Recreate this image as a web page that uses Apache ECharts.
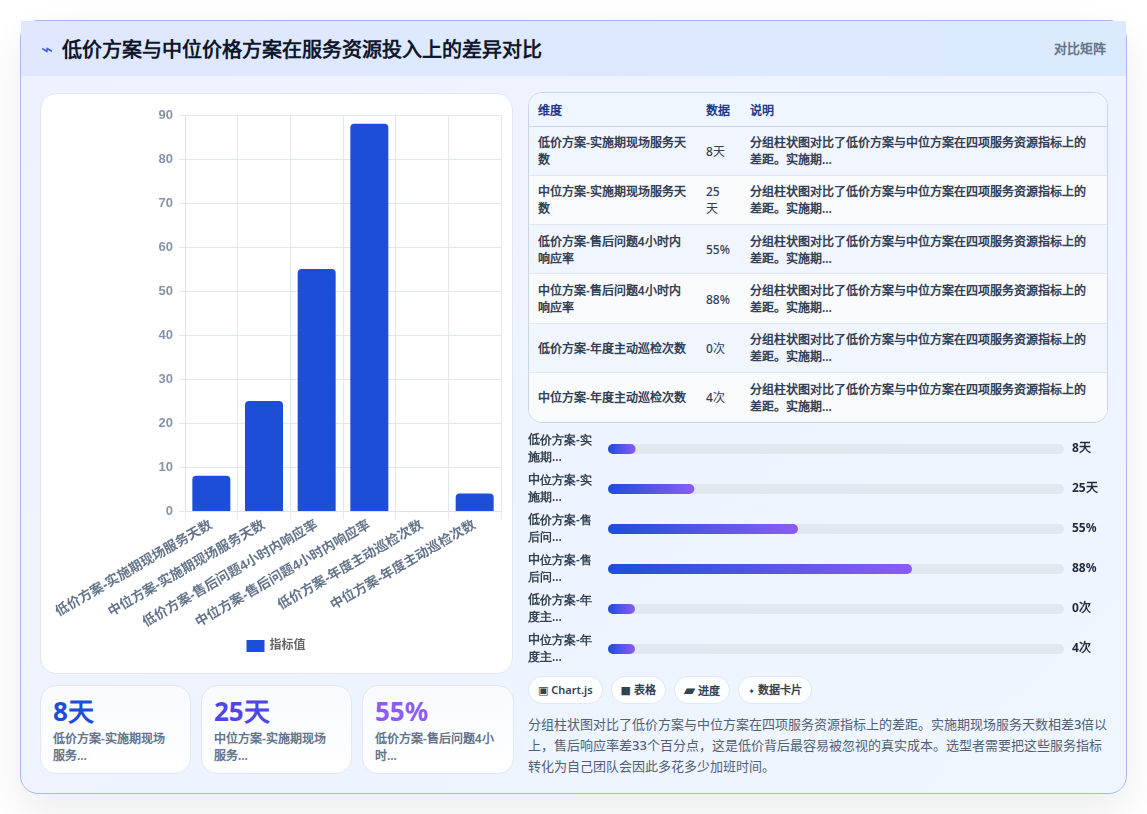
<!DOCTYPE html>
<html lang="zh-CN">
<head>
<meta charset="utf-8">
<title>低价方案与中位价格方案在服务资源投入上的差异对比</title>
<script src="https://cdn.jsdelivr.net/npm/echarts@6/dist/echarts.min.js"></script>
<style>
  * { box-sizing: border-box; margin: 0; padding: 0; }
  html, body { width: 1147px; height: 814px; overflow: hidden; background: #fff; }
  body { font-family: "Noto Sans", sans-serif; position: relative; }
  .panel { position: absolute; left: 20px; top: 20px; width: 1107px; height: 774px;
    border: 1px solid #a9b8e8; border-radius: 18px;
    background: linear-gradient(135deg, #eef2ff, #eff6ff);
    box-shadow: 0 18px 40px rgba(15, 23, 42, .08); }
  .head { position: absolute; left: 0; top: 0; width: 100%; height: 55px;
    background: linear-gradient(90deg, #e0e7ff, #dbeafe); }
  .head .icon { position: absolute; left: 20px; top: 14px; font-size: 20px; line-height: 28px; color: #3b5fe0; }
  .head h1 { position: absolute; left: 41px; top: 15px; font-size: 20px; line-height: 28px; font-weight: 700; color: #0f172a; }
  .head .tag { position: absolute; right: 20px; top: 18px; font-size: 13px; line-height: 18px; font-weight: 600; color: #64748b; }
  .card { position: absolute; background: #fff; border: 1px solid #e2e8f0; border-radius: 16px; }
  #barChart { position: absolute; left: 39px; top: 92px; width: 474px; height: 582px; }
  .stat { background: linear-gradient(180deg, #f8faff, #fff); top: 685px; height: 89px; padding: 8px 14px 8px 12px; }
  .stat b { display: block; font-size: 26px; line-height: 34px; font-weight: 700; }
  .stat span { display: block; font-size: 12px; line-height: 17px; font-weight: 600; color: #64748b; margin-top: 2px; }
  .tableWrap { position: absolute; left: 528px; top: 92px; width: 580px; height: 331px;
    border: 1px solid #cbd5e1; border-radius: 14px; overflow: hidden; }
  table { border-collapse: collapse; width: 578px; table-layout: fixed; font-size: 12px; line-height: 17px; }
  th { height: 33px; background: #eff6ff; color: #1e3a8a; font-weight: 600; text-align: left;
    padding: 2px 9px 0; border-bottom: 1px solid #cbd5e1; }
  td { height: 49.3px; padding: 1px 9px 0; color: #334155; font-weight: 600; border-bottom: 1px solid #e2e8f0; }
  td:nth-child(2) { font-weight: 500; padding-right: 10px; }
  td:nth-child(3) { padding-right: 14px; }
  tr:last-child td { border-bottom: 0; }
  tbody tr:nth-child(odd) td { background: #f1f5ff; }
  tbody tr:nth-child(even) td { background: #f8fafc; }
  #progressChart { position: absolute; left: 528px; top: 429px; width: 580px; height: 240px; }
  .chips { position: absolute; left: 528px; top: 676px; display: flex; gap: 8px; }
  .chip { height: 28px; line-height: 26px; padding: 0 9px; border: 1px solid #e2e8f0; border-radius: 14px;
    background: #fdfeff; font-size: 11px; font-weight: 600; color: #334155; white-space: nowrap; }
  .chip i { font-style: normal; font-family: "DejaVu Sans"; font-weight: 400; }
  .note { position: absolute; left: 528px; top: 714px; width: 582px; font-size: 13px; line-height: 21px; font-weight: 500; color: #526076; }
</style>
</head>
<body>
<div class="panel">
  <div class="head">
    <span class="icon">⌁</span>
    <h1 id="title"></h1>
    <span class="tag" id="tag"></span>
  </div>
</div>
<div class="card" style="left:40px;top:93px;width:473px;height:581px"></div>
<div id="barChart"></div>
<div id="stats"></div>
<div class="tableWrap"><table>
  <colgroup><col style="width:168px"><col style="width:44px"><col></colgroup>
  <thead><tr id="thead"></tr></thead>
  <tbody id="tbody"></tbody>
</table></div>
<div id="progressChart"></div>
<div class="chips" id="chips"></div>
<p class="note" id="note"></p>
<script>
// 页面文案
const titleText = '低价方案与中位价格方案在服务资源投入上的差异对比';
const tagText = '对比矩阵';
const legendName = '指标值';
const noteText = '分组柱状图对比了低价方案与中位方案在四项服务资源指标上的差距。实施期现场服务天数相差3倍以上，售后响应率差33个百分点，这是低价背后最容易被忽视的真实成本。选型者需要把这些服务指标转化为自己团队会因此多花多少加班时间。';

// 指标与数值
const categories = ['低价方案-实施期现场服务天数', '中位方案-实施期现场服务天数', '低价方案-售后问题4小时内响应率', '中位方案-售后问题4小时内响应率', '低价方案-年度主动巡检次数', '中位方案-年度主动巡检次数'];
const values = [8, 25, 55, 88, 0, 4];
const valueLabels = ['8天', '25天', '55%', '88%', '0次', '4次'];
const tickMax = 90;
const tickStep = 10;

// 表格
const tableHeaders = ['维度', '数据', '说明'];
const rowNote = '分组柱状图对比了低价方案与中位方案在四项服务资源指标上的差距。实施期...';

// 进度条左侧的短标签
const progressLabels = ['低价方案-实\n施期...', '中位方案-实\n施期...', '低价方案-售\n后问...', '中位方案-售\n后问...', '低价方案-年\n度主...', '中位方案-年\n度主...'];
const progressMax = 132;

// 数据卡片
const statLabels = ['低价方案-实施期现场服务...', '中位方案-实施期现场服务...', '低价方案-售后问题4小时...'];
const statColors = ['#1d4ed8', '#4f46e5', '#8b5cf6'];
const statLefts = [40, 201, 362];
const statWidths = [151, 151, 152];

// 技术标签
const chipIcons = ['▣', '■', '▰', '✦'];
const chipIconSizes = [11, 11, 15, 8];
const chipLabels = ['Chart.js', '表格', '进度', '数据卡片'];

document.getElementById('title').textContent = titleText;
document.getElementById('tag').textContent = tagText;
document.getElementById('note').textContent = noteText;
document.getElementById('thead').innerHTML = tableHeaders.map(h => `<th>${h}</th>`).join('');
document.getElementById('tbody').innerHTML = categories.map((c, i) =>
  `<tr><td>${c}</td><td>${valueLabels[i]}</td><td>${rowNote}</td></tr>`).join('');
document.getElementById('stats').innerHTML = statLabels.map((s, i) =>
  `<div class="card stat" style="left:${statLefts[i]}px;width:${statWidths[i]}px"><b style="color:${statColors[i]}">${valueLabels[i]}</b><span>${s}</span></div>`).join('');
document.getElementById('chips').innerHTML = chipLabels.map((c, i) =>
  `<span class="chip"><i style="font-size:${chipIconSizes[i]}px">${chipIcons[i]}</i> ${c}</span>`).join('');

const axisFont = '"Liberation Sans", "Noto Sans CJK SC", sans-serif';
const bodyFont = '"Noto Sans", sans-serif';
const barChart = echarts.init(document.getElementById('barChart'));
barChart.setOption({
  animation: false,
  legend: {
    top: 543, left: 'center', icon: 'rect', itemWidth: 18, itemHeight: 12, itemGap: 6,
    textStyle: { color: '#666', fontSize: 12, fontWeight: 600, fontFamily: axisFont }
  },
  grid: { left: 146, right: 12, top: 23, bottom: 163, outerBoundsMode: 'none' },
  xAxis: {
    type: 'category', data: categories,
    axisLine: { lineStyle: { color: '#dbe2ee' } },
    axisTick: { show: true, length: 8, lineStyle: { color: '#e2e8f0' } },
    splitLine: { show: true, lineStyle: { color: '#e2e8f0' } },
    axisLabel: { interval: 0, rotate: 30, margin: 13, color: '#64748b', fontSize: 13.4, fontWeight: 700, fontFamily: axisFont }
  },
  yAxis: {
    type: 'value', min: 0, max: tickMax, interval: tickStep,
    axisLine: { show: true, lineStyle: { color: '#dbe2ee' } },
    axisTick: { show: true, length: 6, lineStyle: { color: '#e2e8f0' } },
    splitLine: { lineStyle: { color: '#e2e8f0' } },
    axisLabel: { margin: 12, color: '#8593a8', fontSize: 13, fontWeight: 700, fontFamily: axisFont }
  },
  series: [{
    name: legendName, type: 'bar', data: values, barWidth: 38,
    itemStyle: { color: '#1d4ed8', borderRadius: [4, 4, 0, 0] }
  }]
});

const progressChart = echarts.init(document.getElementById('progressChart'));
progressChart.setOption({
  animation: false,
  grid: { left: 80, right: 44, top: 0, bottom: 0, outerBoundsMode: 'none' },
  xAxis: { type: 'value', min: 0, max: progressMax, show: false },
  yAxis: [{
    type: 'category', inverse: true, data: progressLabels, position: 'left',
    axisLine: { show: false }, axisTick: { show: false },
    axisLabel: { align: 'left', margin: 80, lineHeight: 17, padding: [6, 0, 0, 0], fontSize: 12, fontWeight: 600, color: '#334155', fontFamily: bodyFont }
  }, {
    type: 'category', inverse: true, data: valueLabels, position: 'right',
    axisLine: { show: false }, axisTick: { show: false },
    axisLabel: { align: 'left', margin: 8, padding: [6, 0, 0, 0], fontSize: 12, fontWeight: 700, color: '#1e293b', fontFamily: bodyFont }
  }],
  series: [{
    type: 'bar', data: values, barWidth: 10, barMinHeight: 27,
    showBackground: true,
    backgroundStyle: { color: '#e2e8f0', borderRadius: 5 },
    itemStyle: {
      borderRadius: 5,
      color: new echarts.graphic.LinearGradient(0, 0, 1, 0, [
        { offset: 0, color: '#1d4ed8' }, { offset: 1, color: '#8b5cf6' }
      ])
    }
  }]
});
</script>
</body>
</html>
